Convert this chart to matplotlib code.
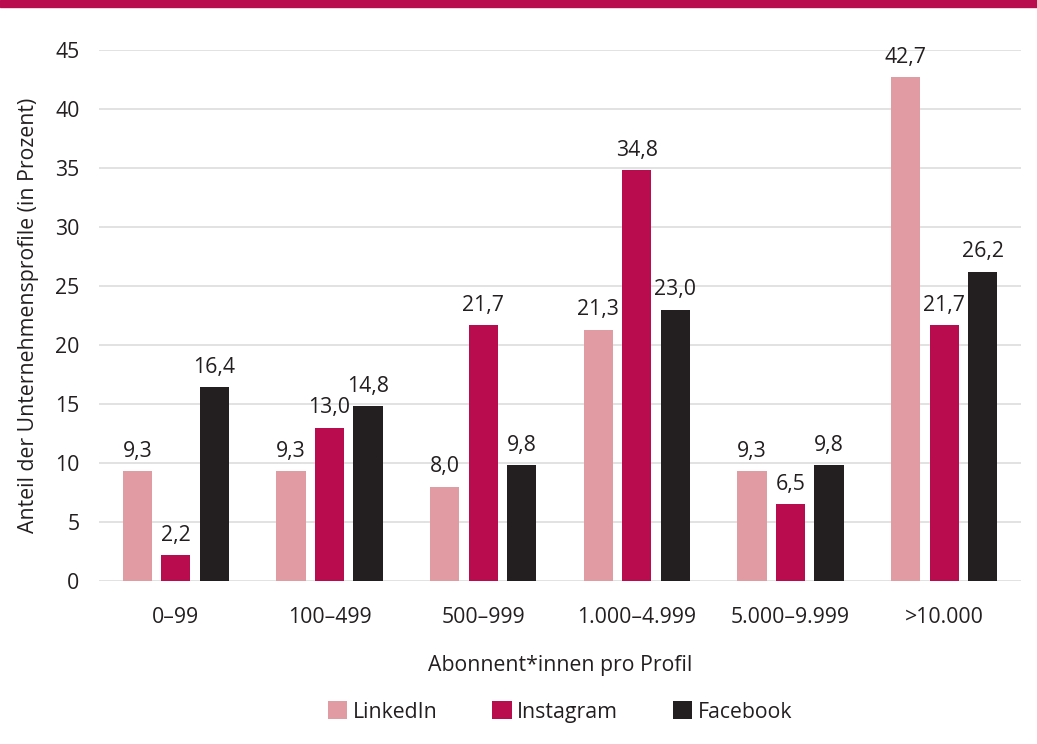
import matplotlib.pyplot as plt
import numpy as np

plt.rcParams['font.family'] = ['Open Sans', 'DejaVu Sans']

categories = ['0–99', '100–499', '500–999', '1.000–4.999', '5.000–9.999', '>10.000']
linkedin = [9.3, 9.3, 8.0, 21.3, 9.3, 42.7]
instagram = [2.2, 13.0, 21.7, 34.8, 6.5, 21.7]
facebook = [16.4, 14.8, 9.8, 23.0, 9.8, 26.2]
series = [('LinkedIn', linkedin, '#E09BA3'),
          ('Instagram', instagram, '#B90C4F'),
          ('Facebook', facebook, '#231F20')]

fs = 15.3
fig = plt.figure(figsize=(10.37, 7.44), dpi=100)
ax = fig.add_axes([99 / 1037, 1 - 581 / 744, 922 / 1037, 531 / 744])

# Balken
x = np.arange(len(categories))
width = 0.19
for i, (name, vals, col) in enumerate(series):
    pos = x + (i - 1) * 0.25
    bars = ax.bar(pos, vals, width, color=col, label=name, zorder=3)
    for b, v in zip(bars, vals):
        ax.text(b.get_x() + b.get_width() / 2, v + 0.8, f'{v:.1f}'.replace('.', ','),
                ha='center', va='bottom', fontsize=fs, color='#231F20')

ax.set_xlim(-0.5, len(categories) - 0.5)
ax.set_ylim(0, 45)
ax.set_yticks(range(0, 46, 5))
ax.set_xticks(x)
ax.set_xticklabels(categories)
ax.grid(axis='y', color='#DDDDDD', linewidth=1.2, zorder=0)
for s in ax.spines.values():
    s.set_visible(False)
ax.tick_params(length=0, labelsize=fs, labelcolor='#231F20')
ax.tick_params(axis='x', pad=19)
ax.tick_params(axis='y', pad=14)

ax.set_ylabel('Anteil der Unternehmensprofile (in Prozent)', fontsize=fs, color='#231F20', labelpad=12)
ax.set_xlabel('Abonnent*innen pro Profil', fontsize=fs, color='#231F20', labelpad=19)

fig.legend(loc='center', bbox_to_anchor=(0.54, 1 - 712 / 744), ncol=3, frameon=False,
           fontsize=fs, handlelength=0.9, handleheight=0.9, columnspacing=2.6, handletextpad=0.25,
           labelcolor='#231F20')

# Balken oben
fig.add_artist(plt.Rectangle((0, 1 - 7 / 744), 1, 7 / 744, transform=fig.transFigure,
                             color='#B90C4F'))

fig.savefig('out.png', dpi=100)
